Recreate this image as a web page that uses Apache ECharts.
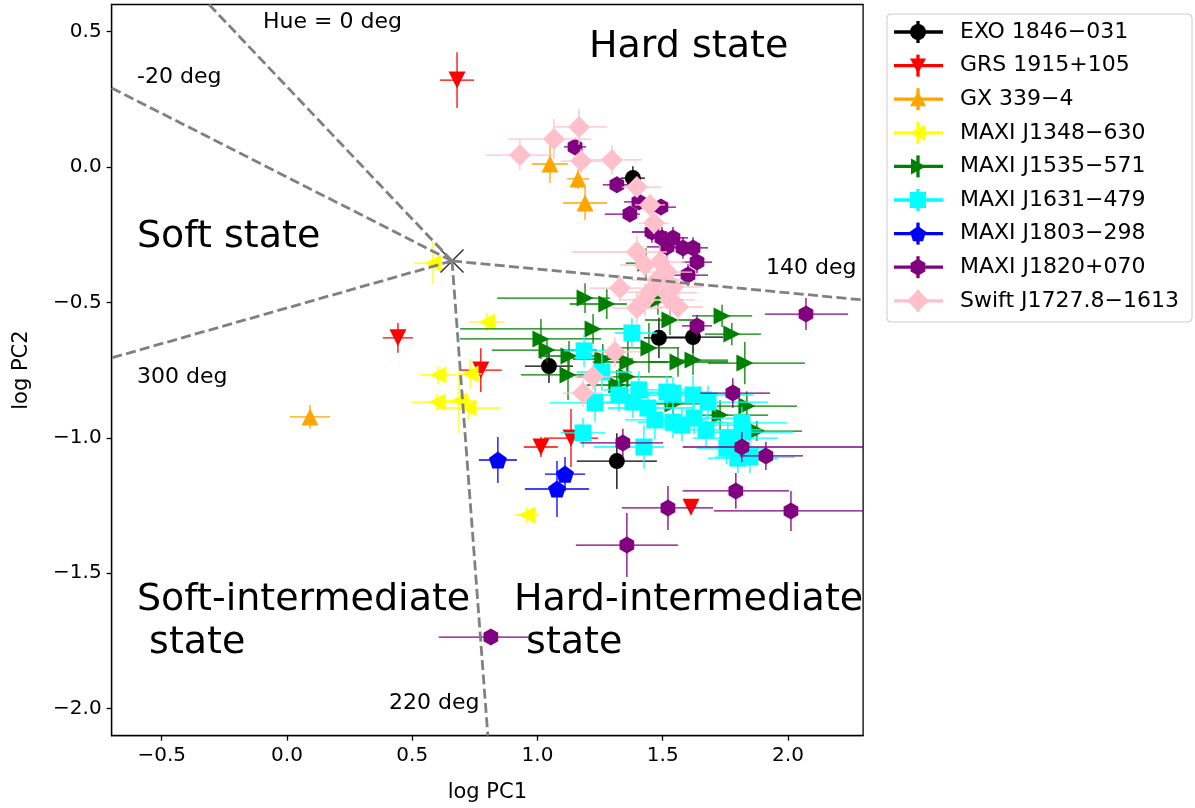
<!DOCTYPE html>
<html>
<head>
<meta charset="utf-8">
<script src="https://cdn.jsdelivr.net/npm/echarts@6/dist/echarts.min.js"></script>
<style>html,body{margin:0;padding:0;background:#fff;}#c{width:1195px;height:808px;}</style>
</head>
<body>
<div id="c"></div>
<script>
// Each point: [logPC1, logPC2, xErrLow, xErrHigh, yErr]
const EXO_1846 = [
  [1.381,-0.041,0.048,0.048,0.044],
  [1.485,-0.631,0.060,0.140,0.074],
  [1.621,-0.628,0.140,0.120,0.059],
  [1.046,-0.735,0.096,0.096,0.063],
  [1.317,-1.086,0.160,0.160,0.103]
];
const GRS_1915 = [
  [0.679,0.321,0.068,0.068,0.103],
  [0.443,-0.631,0.060,0.060,0.055],
  [0.774,-0.750,0.084,0.084,0.081],
  [1.014,-1.034,0.068,0.068,0.037],
  [1.134,-1.001,0.108,0.108,0.107],
  [1.613,-1.256,0.020,0.020,0.018]
];
const GX_339 = [
  [1.050,0.011,0.072,0.072,0.070],
  [1.162,-0.044,0.044,0.044,0.037],
  [1.190,-0.133,0.088,0.088,0.063],
  [0.092,-0.923,0.080,0.080,0.044]
];
const MAXI_J1348 = [
  [0.583,-0.355,0.076,0.076,0.078],
  [0.798,-0.572,0.072,0.072,0.033],
  [0.603,-0.768,0.072,0.072,0.033],
  [0.731,-0.764,0.048,0.048,0.055],
  [0.599,-0.868,0.100,0.100,0.030],
  [0.687,-0.864,0.060,0.060,0.118],
  [0.723,-0.890,0.130,0.130,0.044],
  [0.958,-1.285,0.048,0.048,0.030]
];
const MAXI_J1535 = [
  [1.190,-0.484,0.351,0.100,0.055],
  [1.277,-0.506,0.148,0.080,0.055],
  [1.222,-0.598,0.531,0.160,0.055],
  [1.014,-0.635,0.323,0.240,0.074],
  [1.038,-0.676,0.220,0.200,0.044],
  [1.126,-0.698,0.120,0.160,0.055],
  [1.122,-0.768,0.188,0.120,0.092],
  [1.445,-0.668,0.160,0.120,0.092],
  [1.361,-0.720,0.140,0.160,0.092],
  [1.357,-0.775,0.200,0.180,0.074],
  [1.561,-0.720,0.120,0.200,0.055],
  [1.621,-0.713,0.080,0.140,0.055],
  [1.737,-0.550,0.120,0.120,0.041],
  [1.776,-0.617,0.108,0.116,0.041],
  [1.828,-0.724,0.148,0.240,0.078],
  [1.836,-0.883,0.120,0.200,0.055],
  [1.729,-0.916,0.108,0.192,0.055],
  [1.876,-0.975,0.120,0.180,0.037],
  [1.529,-0.565,0.100,0.100,0.055],
  [1.433,-0.355,0.080,0.080,0.055],
  [1.261,-0.709,0.120,0.120,0.055],
  [1.317,-0.805,0.120,0.120,0.055],
  [1.541,-0.875,0.120,0.120,0.055],
  [1.481,-0.491,0.100,0.100,0.055]
];
const MAXI_J1631 = [
  [1.377,-0.613,0.068,0.100,0.055],
  [1.186,-0.679,0.080,0.100,0.060],
  [1.182,-0.982,0.090,0.090,0.055],
  [1.425,-1.034,0.200,0.080,0.080],
  [1.257,-0.757,0.100,0.120,0.070],
  [1.230,-0.871,0.180,0.140,0.070],
  [1.325,-0.842,0.120,0.160,0.060],
  [1.405,-0.823,0.140,0.200,0.070],
  [1.381,-0.868,0.160,0.200,0.060],
  [1.441,-0.890,0.160,0.180,0.060],
  [1.469,-0.934,0.120,0.200,0.070],
  [1.517,-0.831,0.120,0.180,0.060],
  [1.541,-0.835,0.140,0.180,0.060],
  [1.621,-0.842,0.140,0.240,0.070],
  [1.681,-0.868,0.120,0.240,0.060],
  [1.541,-0.942,0.140,0.200,0.060],
  [1.577,-0.953,0.140,0.240,0.060],
  [1.625,-0.927,0.120,0.220,0.060],
  [1.673,-0.971,0.160,0.220,0.060],
  [1.760,-1.001,0.140,0.200,0.060],
  [1.816,-0.945,0.120,0.180,0.060],
  [1.820,-0.979,0.160,0.200,0.060],
  [1.756,-1.038,0.120,0.160,0.060],
  [1.800,-1.075,0.120,0.160,0.055],
  [1.848,-1.071,0.140,0.180,0.060]
];
const MAXI_J1803 = [
  [0.842,-1.082,0.076,0.076,0.085],
  [1.110,-1.134,0.080,0.080,0.063],
  [1.078,-1.189,0.128,0.128,0.103]
];
const MAXI_J1820 = [
  [1.150,0.074,0.044,0.044,0.030],
  [1.317,-0.066,0.056,0.056,0.030],
  [1.369,-0.174,0.100,0.040,0.030],
  [1.405,-0.129,0.060,0.060,0.030],
  [1.493,-0.148,0.060,0.060,0.030],
  [1.457,-0.240,0.080,0.060,0.040],
  [1.497,-0.262,0.060,0.060,0.040],
  [1.541,-0.262,0.060,0.060,0.040],
  [1.517,-0.295,0.080,0.080,0.040],
  [1.581,-0.299,0.060,0.060,0.040],
  [1.621,-0.299,0.060,0.060,0.040],
  [1.637,-0.351,0.060,0.060,0.040],
  [1.601,-0.399,0.080,0.080,0.040],
  [1.637,-0.587,0.060,0.060,0.040],
  [2.072,-0.543,0.164,0.168,0.059],
  [1.780,-0.835,0.130,0.148,0.055],
  [1.341,-1.019,0.170,0.160,0.052],
  [1.816,-1.034,0.236,0.520,0.055],
  [1.912,-1.067,0.104,0.148,0.052],
  [1.792,-1.196,0.212,0.212,0.066],
  [1.521,-1.259,0.184,0.180,0.081],
  [2.012,-1.270,0.307,0.300,0.074],
  [1.357,-1.396,0.204,0.204,0.118],
  [0.814,-1.736,0.208,0.148,0.000]
];
const SWIFT_J1727 = [
  [1.166,0.148,0.096,0.112,0.066],
  [1.066,0.103,0.184,0.148,0.074],
  [0.930,0.044,0.136,0.132,0.055],
  [1.174,0.022,0.080,0.080,0.044],
  [1.297,0.026,0.088,0.120,0.055],
  [1.397,-0.074,0.060,0.100,0.037],
  [1.449,-0.140,0.060,0.060,0.040],
  [1.465,-0.207,0.060,0.060,0.040],
  [1.397,-0.314,0.260,0.120,0.060],
  [1.489,-0.351,0.100,0.100,0.060],
  [1.517,-0.388,0.100,0.100,0.060],
  [1.329,-0.447,0.120,0.120,0.050],
  [1.449,-0.462,0.120,0.120,0.060],
  [1.517,-0.465,0.120,0.120,0.060],
  [1.477,-0.417,0.100,0.100,0.060],
  [1.541,-0.443,0.100,0.120,0.060],
  [1.397,-0.521,0.100,0.100,0.060],
  [1.561,-0.517,0.100,0.100,0.060],
  [1.429,-0.491,0.100,0.100,0.060],
  [1.309,-0.683,0.100,0.100,0.055],
  [1.222,-0.775,0.080,0.080,0.050],
  [1.182,-0.835,0.080,0.080,0.050],
  [1.429,-0.362,0.100,0.100,0.060],
  [1.529,-0.491,0.100,0.100,0.060]
];
// Hue centre and boundary line end points
const HUE_CENTER = [0.659, -0.347];
const HUE_LINE_ENDS = [
  [-0.311, 0.600],  // 0 deg
  [-0.700, 0.292],  // -20 deg
  [2.300, -0.491],  // 140 deg
  [-0.700, -0.705], // 300 deg
  [0.802, -2.100]   // 220 deg
];
const X_TICKS = [-0.5, 0.0, 0.5, 1.0, 1.5, 2.0];
const Y_TICKS = [-2.0, -1.5, -1.0, -0.5, 0.0, 0.5];
const SOURCE_NAMES = ['EXO 1846\u2212031','GRS 1915+105','GX 339\u22124','MAXI J1348\u2212630','MAXI J1535\u2212571','MAXI J1631\u2212479','MAXI J1803\u2212298','MAXI J1820+070','Swift J1727.8\u22121613'];
const SOURCE_DATA = [EXO_1846, GRS_1915, GX_339, MAXI_J1348, MAXI_J1535, MAXI_J1631, MAXI_J1803, MAXI_J1820, SWIFT_J1727];
const SOURCE_COLORS = ['#000000','#ff0000','#ffa500','#ffff00','#008000','#00ffff','#0000ff','#800080','#ffc0cb'];

const FONT = 'DejaVu Sans';
const XMIN=-0.7, XMAX=2.3, YMIN=-2.1, YMAX=0.6;
const HEX = 'path://M0,-1L0.866,-0.5L0.866,0.5L0,1L-0.866,0.5L-0.866,-0.5Z';
const PENT = 'path://M0,-1L0.951,-0.309L0.588,0.809L-0.588,0.809L-0.951,-0.309Z';
const MARKERS = [
  {symbol:'circle', size:16, rot:0},
  {symbol:'triangle', size:17, rot:180},
  {symbol:'triangle', size:17, rot:0},
  {symbol:'triangle', size:17, rot:90},
  {symbol:'triangle', size:17, rot:-90},
  {symbol:'rect', size:17, rot:0},
  {symbol:PENT, size:18, rot:0},
  {symbol:HEX, size:17, rot:0},
  {symbol:'diamond', size:22, rot:0}
];

function clamp(v,a,b){return Math.max(a,Math.min(b,v));}
function errRender(color){
  return function(params, api){
    const x=api.value(0), y=api.value(1), xl=api.value(2), xh=api.value(3), ye=api.value(4);
    const p0=api.coord([clamp(x-xl,XMIN,XMAX),y]), p1=api.coord([clamp(x+xh,XMIN,XMAX),y]);
    const p2=api.coord([x,clamp(y-ye,YMIN,YMAX)]), p3=api.coord([x,clamp(y+ye,YMIN,YMAX)]);
    return {type:'group', children:[
      {type:'line', shape:{x1:p0[0],y1:p0[1],x2:p1[0],y2:p1[1]}, style:{stroke:color,lineWidth:1.3}},
      {type:'line', shape:{x1:p2[0],y1:p2[1],x2:p3[0],y2:p3[1]}, style:{stroke:color,lineWidth:1.3}}
    ]};
  };
}

const series = [];
SOURCE_DATA.forEach((d,i)=>{
  series.push({type:'custom', name:SOURCE_NAMES[i]+' err', data:d, encode:{x:0,y:1},
    renderItem: errRender(SOURCE_COLORS[i]), z:2+2*i, silent:true, clip:true});
  series.push({type:'scatter', name:SOURCE_NAMES[i], data:d.map(p=>[p[0],p[1]]),
    symbol:MARKERS[i].symbol, symbolSize:MARKERS[i].size, symbolRotate:MARKERS[i].rot, symbolKeepAspect:true,
    itemStyle:{color:SOURCE_COLORS[i], opacity:1}, z:3+2*i, silent:true});
});
series.push({type:'scatter', name:'centre', data:[HUE_CENTER], symbol:'path://M0,0L1,1M1,0L0,1', symbolSize:23,
  itemStyle:{color:'none', borderColor:'#000', borderWidth:1.5}, z:30, silent:true});
HUE_LINE_ENDS.forEach((e,k)=>{
  series.push({type:'line', name:'hue'+k, data:[HUE_CENTER, e], showSymbol:false, symbol:'none',
    lineStyle:{color:'#808080', width:2.8, type:[10,4.3]}, z:40, silent:true, clip:true});
});

// legend drawn as graphic
function markerEl(i, cx, cy){
  const c = SOURCE_COLORS[i];
  const tri = (pts)=>({type:'polygon', shape:{points:pts}, style:{fill:c}});
  switch(i){
    case 0: return {type:'circle', shape:{cx:cx,cy:cy,r:8}, style:{fill:c}};
    case 1: return tri([[cx-8,cy-7],[cx+8,cy-7],[cx,cy+8]]);
    case 2: return tri([[cx-8,cy+7],[cx+8,cy+7],[cx,cy-8]]);
    case 3: return tri([[cx+7,cy-8],[cx+7,cy+8],[cx-8,cy]]);
    case 4: return tri([[cx-7,cy-8],[cx-7,cy+8],[cx+8,cy]]);
    case 5: return {type:'rect', shape:{x:cx-8,y:cy-8,width:16,height:16}, style:{fill:c}};
    case 6: { const p=[]; for(let k=0;k<5;k++){const a=-Math.PI/2+k*2*Math.PI/5; p.push([cx+8.5*Math.cos(a), cy+0.8+8.5*Math.sin(a)]);} return tri(p); }
    case 7: { const p=[]; for(let k=0;k<6;k++){const a=-Math.PI/2+k*Math.PI/3; p.push([cx+8.5*Math.cos(a), cy+8.5*Math.sin(a)]);} return tri(p); }
    default: return tri([[cx,cy-11],[cx+11,cy],[cx,cy+11],[cx-11,cy]]);
  }
}
const legendEls = [{type:'rect', shape:{x:887,y:14,width:305,height:308,r:4}, style:{fill:'#fff', stroke:'#cccccc', lineWidth:1}}];
SOURCE_NAMES.forEach((n,i)=>{
  const cy = 32 + i*33.6;
  legendEls.push({type:'line', shape:{x1:894,y1:cy,x2:943,y2:cy}, style:{stroke:SOURCE_COLORS[i], lineWidth:3.3}});
  legendEls.push({type:'line', shape:{x1:918,y1:cy-11,x2:918,y2:cy+11}, style:{stroke:SOURCE_COLORS[i], lineWidth:3.3}});
  legendEls.push(markerEl(i,918,cy));
  legendEls.push({type:'text', x:960, y:cy, style:{text:n, fontFamily:FONT, fontSize:22, fill:'#000', align:'left', verticalAlign:'middle', textAlign:'left', textVerticalAlign:'middle'}});
});

function txt(s, x, y, size){
  return {type:'text', x:x, y:y, z:50, style:{text:s, fontFamily:FONT, fontSize:size, fill:'#000', align:'left', verticalAlign:'middle', textAlign:'left', textVerticalAlign:'middle', lineHeight:43}};
}
const annotations = [
  txt('Hue = 0 deg', 263, 22, 22),
  txt('-20 deg', 137, 77, 22),
  txt('140 deg', 766, 268, 22),
  txt('300 deg', 137, 377, 22),
  txt('220 deg', 389, 703, 22),
  txt('Hard state', 589, 47, 38),
  txt('Soft state', 137, 237, 38),
  txt('Soft-intermediate\n state', 137, 622, 38),
  txt('Hard-intermediate\n state', 514, 622, 38)
];

const fmt = v => (v < 0 ? '\u2212' : '') + Math.abs(v).toFixed(1);
const axisCommon = {
  type:'value', nameLocation:'middle',
  nameTextStyle:{fontFamily:FONT, fontSize:21, color:'#000'},
  axisLine:{show:true, onZero:false, lineStyle:{color:'#000', width:1.3}},
  splitLine:{show:false}
};
const chart = echarts.init(document.getElementById('c'), null, {renderer:'canvas'});
chart.setOption({
  animation:false,
  backgroundColor:'#fff',
  grid:{left:111.6, top:4.5, width:751.5, height:731.2, show:true, borderColor:'#000', borderWidth:1.3, backgroundColor:'transparent'},
  xAxis: Object.assign({}, axisCommon, {
    min:XMIN, max:XMAX, name:'log PC1', nameGap:46,
    axisTick:{show:true, inside:false, length:5, customValues:X_TICKS, lineStyle:{color:'#000', width:1.3}},
    axisLabel:{customValues:X_TICKS, formatter:fmt, fontFamily:FONT, fontSize:20, color:'#000', margin:10}
  }),
  yAxis: Object.assign({}, axisCommon, {
    min:YMIN, max:YMAX, name:'log PC2', nameGap:80,
    axisTick:{show:true, inside:false, length:5, customValues:Y_TICKS, lineStyle:{color:'#000', width:1.3}},
    axisLabel:{customValues:Y_TICKS, formatter:fmt, fontFamily:FONT, fontSize:20, color:'#000', margin:10}
  }),
  series: series,
  graphic: legendEls.concat(annotations)
});
</script>
</body>
</html>
